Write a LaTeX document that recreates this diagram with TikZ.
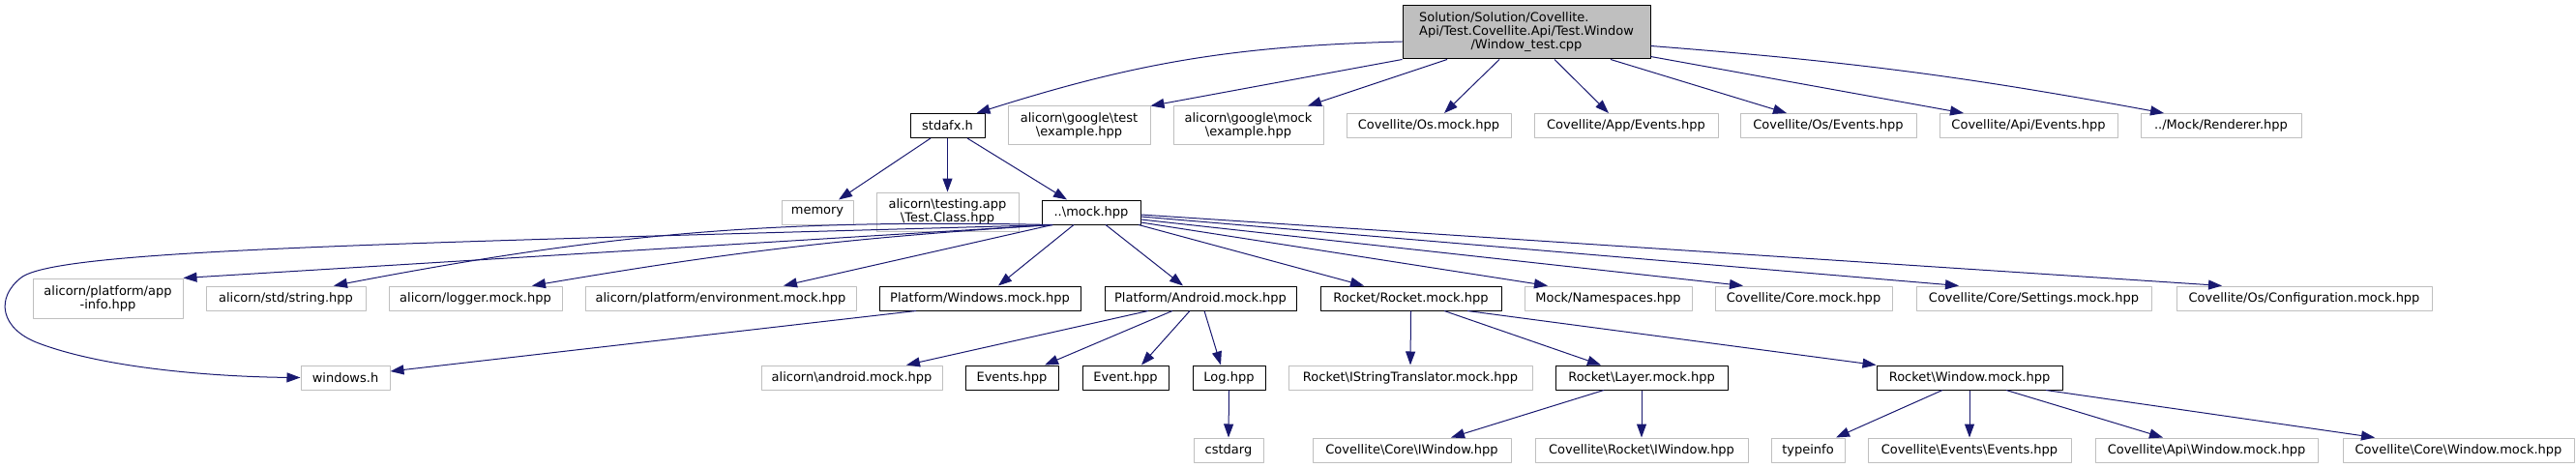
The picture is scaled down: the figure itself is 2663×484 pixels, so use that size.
\documentclass[tikz,border=0pt]{standalone}
\usepackage{fontspec}
\setmainfont{DejaVu Sans}
\usetikzlibrary{arrows.meta}
\definecolor{edgeblue}{HTML}{191970}
\definecolor{leafgrey}{HTML}{BFBFBF}
\newcommand{\bsl}{\textbackslash}
\begin{document}
\begin{tikzpicture}[x=1pt, y=-1pt, font=\fontsize{13}{14}\selectfont, line join=round,
		box/.style={inner sep=0pt, minimum height=25pt, align=center, line width=1pt},
		hdr/.style={box, draw=black},
		ext/.style={box, draw=leafgrey},
		inc/.style={draw=edgeblue, line width=1pt, -{Triangle[length=14pt, width=10pt]}}]
		\useasboundingbox (0,0) rectangle (2663,484);
		% file under test
		\node[hdr, fill=leafgrey, minimum width=256, minimum height=55] (root) at (1578,33.5) {\begin{tabular}{@{}l@{}}Solution/Solution/Covellite.\\Api/Test.Covellite.Api/Test.Window\\\multicolumn{1}{@{}c@{}}{/Window\_test.cpp}\end{tabular}};
		% first level
		\node[hdr, minimum width=77] (stdafx) at (979.5,130) {stdafx.h};
		\node[ext, minimum width=147, minimum height=40] (gtest) at (1115.5,130) {alicorn\bsl google\bsl test\\\bsl example.hpp};
		\node[ext, minimum width=155, minimum height=40] (gmock) at (1290.5,130) {alicorn\bsl google\bsl mock\\\bsl example.hpp};
		\node[ext, minimum width=170] (osmock) at (1477,130) {Covellite/Os.mock.hpp};
		\node[ext, minimum width=190] (appev) at (1681,130) {Covellite/App/Events.hpp};
		\node[ext, minimum width=182] (osev) at (1890,130) {Covellite/Os/Events.hpp};
		\node[ext, minimum width=184] (apiev) at (2097,130) {Covellite/Api/Events.hpp};
		\node[ext, minimum width=166] (renderer) at (2296,130) {../Mock/Renderer.hpp};
		% second level
		\node[ext, minimum width=74] (memory) at (845,219.5) {memory};
		\node[ext, minimum width=147, minimum height=40] (testapp) at (979.5,219) {alicorn\bsl testing.app\\\bsl Test.Class.hpp};
		\node[hdr, minimum width=102] (mock) at (1128,219.5) {..\bsl mock.hpp};
		% third level
		\node[ext, minimum width=155, minimum height=41] (appinfo) at (111.5,308.5) {alicorn/platform/app\\-info.hpp};
		\node[ext, minimum width=165] (string) at (295.5,308.5) {alicorn/std/string.hpp};
		\node[ext, minimum width=179] (logger) at (491.5,308.5) {alicorn/logger.mock.hpp};
		\node[ext, minimum width=280] (env) at (745,308.5) {alicorn/platform/environment.mock.hpp};
		\node[hdr, minimum width=208] (winmock) at (1013,308.5) {Platform/Windows.mock.hpp};
		\node[hdr, minimum width=198] (andmock) at (1241,308.5) {Platform/Android.mock.hpp};
		\node[hdr, minimum width=187] (rocket) at (1458.5,308.5) {Rocket/Rocket.mock.hpp};
		\node[ext, minimum width=173] (namesp) at (1662.5,308.5) {Mock/Namespaces.hpp};
		\node[ext, minimum width=183] (coremock) at (1864.5,308.5) {Covellite/Core.mock.hpp};
		\node[ext, minimum width=243] (settings) at (2102.5,308.5) {Covellite/Core/Settings.mock.hpp};
		\node[ext, minimum width=264] (config) at (2382,308.5) {Covellite/Os/Configuration.mock.hpp};
		% fourth level
		\node[ext, minimum width=92] (windowsh) at (357,390.5) {windows.h};
		\node[ext, minimum width=187] (andhpp) at (880.5,390.5) {alicorn\bsl android.mock.hpp};
		\node[hdr, minimum width=96] (events) at (1046,390.5) {Events.hpp};
		\node[hdr, minimum width=89] (event) at (1163.5,390.5) {Event.hpp};
		\node[hdr, minimum width=75] (loghpp) at (1270.5,390.5) {Log.hpp};
		\node[ext, minimum width=252] (istring) at (1458,390.5) {Rocket\bsl IStringTranslator.mock.hpp};
		\node[hdr, minimum width=178] (layer) at (1697,390.5) {Rocket\bsl Layer.mock.hpp};
		\node[hdr, minimum width=192] (winmockr) at (2036,390.5) {Rocket\bsl Window.mock.hpp};
		% fifth level
		\node[ext, minimum width=72] (cstdarg) at (1270,465.5) {cstdarg};
		\node[ext, minimum width=205] (coreiw) at (1459.5,465.5) {Covellite\bsl Core\bsl IWindow.hpp};
		\node[ext, minimum width=220] (rocketiw) at (1697,465.5) {Covellite\bsl Rocket\bsl IWindow.hpp};
		\node[ext, minimum width=76] (typeinfo) at (1869,465.5) {typeinfo};
		\node[ext, minimum width=210] (evev) at (2036,465.5) {Covellite\bsl Events\bsl Events.hpp};
		\node[ext, minimum width=230] (apiwin) at (2281,465.5) {Covellite\bsl Api\bsl Window.mock.hpp};
		\node[ext, minimum width=239] (corewin) at (2541.5,465.5) {Covellite\bsl Core\bsl Window.mock.hpp};
		% includes of the test file
		\draw[inc] ([yshift=-9.5]root.west) to[bend right=8] ([xshift=30]stdafx.north);
		\draw[inc] (root.south west) -- (gtest.north east);
		\draw[inc] ([xshift=-82]root.south) -- ([xshift=61.5]gmock.north);
		\draw[inc] ([xshift=-28]root.south) -- ([xshift=16]osmock.north);
		\draw[inc] ([xshift=29]root.south) -- ([xshift=-18]appev.north);
		\draw[inc] ([xshift=87]root.south) -- ([xshift=-43]osev.north);
		\draw[inc] ([yshift=3]root.south east) -- ([xshift=-67]apiev.north);
		\draw[inc] ([yshift=-14]root.east) to[bend left=3] ([xshift=-59]renderer.north);
		% stdafx.h
		\draw[inc] ([xshift=-17.5]stdafx.south) -- ([xshift=22]memory.north);
		\draw[inc] (stdafx.south) -- (testapp.north);
		\draw[inc] ([xshift=20.5]stdafx.south) -- ([xshift=-25]mock.north);
		% ..\mock.hpp
		\draw[inc] ([xshift=-40]mock.south) .. controls (400,252) and (60,258) .. (22,287)
			.. controls (-5,308) and (0,340) .. (40,355) .. controls (120,385) and (250,390) .. (windowsh.west);
		\draw[inc] ([xshift=-40]mock.south) -- (appinfo.north east);
		\draw[inc] ([xshift=-40]mock.south) to[bend right=6] ([xshift=49.5]string.north);
		\draw[inc] ([xshift=-40]mock.south) to[bend right=3] ([xshift=58.5]logger.north);
		\draw[inc] ([xshift=-40]mock.south) -- ([xshift=65]env.north);
		\draw[inc] ([xshift=-18]mock.south) -- ([xshift=19]winmock.north);
		\draw[inc] ([xshift=15]mock.south) -- ([xshift=-18]andmock.north);
		\draw[inc] ([xshift=49]mock.south) -- ([xshift=-48.5]rocket.north);
		\draw[inc] ([yshift=-10.5]mock.east) -- ([xshift=-62.5]namesp.north);
		\draw[inc] ([yshift=-7.5]mock.east) -- ([xshift=-62.5]coremock.north);
		\draw[inc] ([yshift=-4.5]mock.east) -- ([xshift=-77.5]settings.north);
		\draw[inc] ([yshift=-2.5]mock.east) -- ([xshift=-85]config.north);
		% third level includes
		\draw[inc] ([xshift=-66]winmock.south) -- ([yshift=6.5]windowsh.east);
		\draw[inc] ([xshift=-54]andmock.south) -- ([xshift=56.5]andhpp.north);
		\draw[inc] ([xshift=-29]andmock.south) -- ([xshift=34]events.north);
		\draw[inc] ([xshift=-11]andmock.south) -- ([xshift=16.5]event.north);
		\draw[inc] ([xshift=4]andmock.south) -- ([xshift=-8.5]loghpp.north);
		\draw[inc] (rocket.south) -- (istring.north);
		\draw[inc] ([xshift=34.5]rocket.south) -- ([xshift=-42]layer.north);
		\draw[inc] ([xshift=58.5]rocket.south) -- (winmockr.north west);
		% fourth level includes
		\draw[inc] (loghpp.south) -- (cstdarg.north);
		\draw[inc] ([xshift=-39]layer.south) -- ([xshift=40.5]coreiw.north);
		\draw[inc] (layer.south) -- (rocketiw.north);
		\draw[inc] ([xshift=-28]winmockr.south) -- ([xshift=29]typeinfo.north);
		\draw[inc] (winmockr.south) -- (evev.north);
		\draw[inc] ([xshift=38]winmockr.south) -- ([xshift=-45]apiwin.north);
		\draw[inc] ([xshift=79]winmockr.south) -- ([xshift=-86.5]corewin.north);
	\end{tikzpicture}
\end{document}
